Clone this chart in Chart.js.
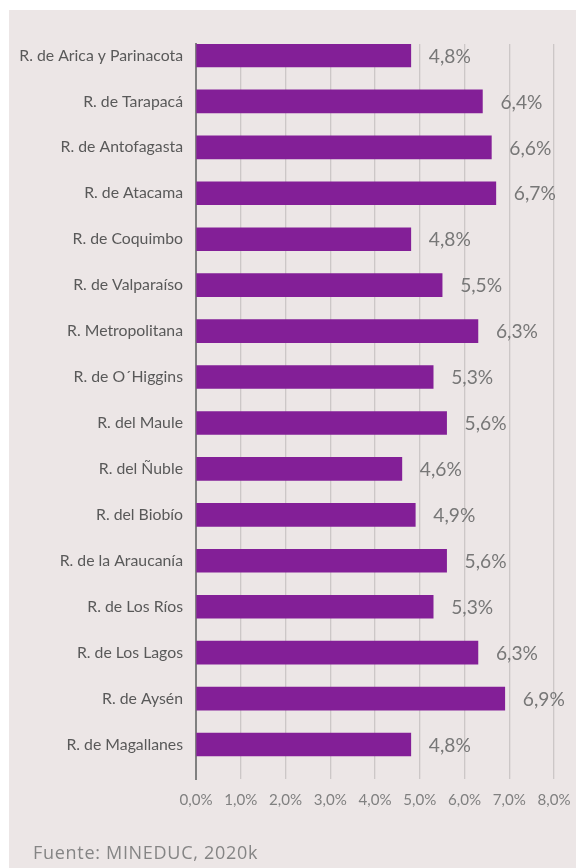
<!DOCTYPE html>
<html>
<head>
<meta charset="utf-8">
<script src="https://cdn.jsdelivr.net/npm/chart.js@4/dist/chart.umd.min.js"></script>
<style>
  html, body { margin: 0; padding: 0; background: #ffffff; }
  #wrap { position: relative; width: 576px; height: 868px; overflow: hidden; }
  #panel { position: absolute; left: 9px; top: 10px; width: 567px; height: 858px; background: #ece6e6; }
  #c { position: absolute; left: 0; top: 0; }
  #source { position: absolute; left: 33px; top: 840px; font-family: 'Open Sans', sans-serif; font-size: 18px; color: #858585; letter-spacing: 0.7px; white-space: nowrap; }
</style>
</head>
<body>
<div id="wrap">
  <div id="panel"></div>
  <canvas id="c" width="576" height="868"></canvas>
  <div id="source">Fuente: MINEDUC, 2020k</div>
</div>
<script>
const regions = [
  "R. de Arica y Parinacota",
  "R. de Tarapacá",
  "R. de Antofagasta",
  "R. de Atacama",
  "R. de Coquimbo",
  "R. de Valparaíso",
  "R. Metropolitana",
  "R. de O´Higgins",
  "R. del Maule",
  "R. del Ñuble",
  "R. del Biobío",
  "R. de la Araucanía",
  "R. de Los Ríos",
  "R. de Los Lagos",
  "R. de Aysén",
  "R. de Magallanes"
];
const rates = [4.8, 6.4, 6.6, 6.7, 4.8, 5.5, 6.3, 5.3, 5.6, 4.6, 4.9, 5.6, 5.3, 6.3, 6.9, 4.8];
const emptySeries = regions.map(() => null);
const axisTicks = [0, 1, 2, 3, 4, 5, 6, 7, 8];

const FONT = "Lato, 'Open Sans', sans-serif";
const fmt = v => v.toFixed(1).replace('.', ',') + '%';

// size fonts so that text widths match the reference
const mctx = document.createElement('canvas').getContext('2d');
function fitSize(text, width) {
  mctx.font = '20px ' + FONT;
  return Math.round(20 * width / mctx.measureText(text).width * 10) / 10;
}
const catSize = fitSize(regions[0], 164);
const tickSize = fitSize('5,0%', 33);
const valSize = fitSize('6,7%', 42);

const valueLabels = {
  id: 'valueLabels',
  afterDatasetsDraw(chart) {
    const ctx = chart.ctx;
    const meta = chart.getDatasetMeta(0);
    ctx.save();
    ctx.font = valSize + 'px ' + FONT;
    ctx.fillStyle = '#777777';
    ctx.textAlign = 'left';
    ctx.textBaseline = 'middle';
    meta.data.forEach((el, i) => {
      ctx.fillText(fmt(rates[i]), el.x + 18, el.y + 1);
    });
    ctx.restore();
  }
};

new Chart(document.getElementById('c'), {
  type: 'bar',
  data: {
    labels: regions,
    datasets: [
      { data: rates, backgroundColor: '#831f97', borderWidth: 0, categoryPercentage: 1, barPercentage: 1 },
      { data: emptySeries, backgroundColor: 'rgba(0,0,0,0)', borderWidth: 0, categoryPercentage: 1, barPercentage: 1 }
    ]
  },
  options: {
    indexAxis: 'y',
    responsive: false,
    animation: false,
    devicePixelRatio: 1,
    layout: { padding: { left: 0, right: 22, top: 44, bottom: 0 } },
    plugins: { legend: { display: false }, tooltip: { enabled: false } },
    scales: {
      x: {
        min: 0, max: 8,
        afterBuildTicks: s => { s.ticks = axisTicks.map(v => ({ value: v })); },
        afterFit: s => { s.height = 89; s.paddingLeft = 0; s.paddingRight = 0; },
        grid: { color: '#ccc7c7', lineWidth: 1.3, drawTicks: false },
        border: { display: false },
        ticks: { color: '#808080', font: { family: FONT, size: tickSize }, padding: 12, maxRotation: 0, minRotation: 0, autoSkip: false, callback: v => fmt(v) }
      },
      y: {
        afterFit: s => { s.width = 196; s.paddingTop = 0; s.paddingBottom = 0; },
        grid: { display: false, drawTicks: false },
        border: { display: true, color: '#808080', width: 2 },
        ticks: { color: '#595959', font: { family: FONT, size: catSize }, padding: 13, labelOffset: -11.5, autoSkip: false }
      }
    }
  },
  plugins: [valueLabels]
});
</script>
</body>
</html>
